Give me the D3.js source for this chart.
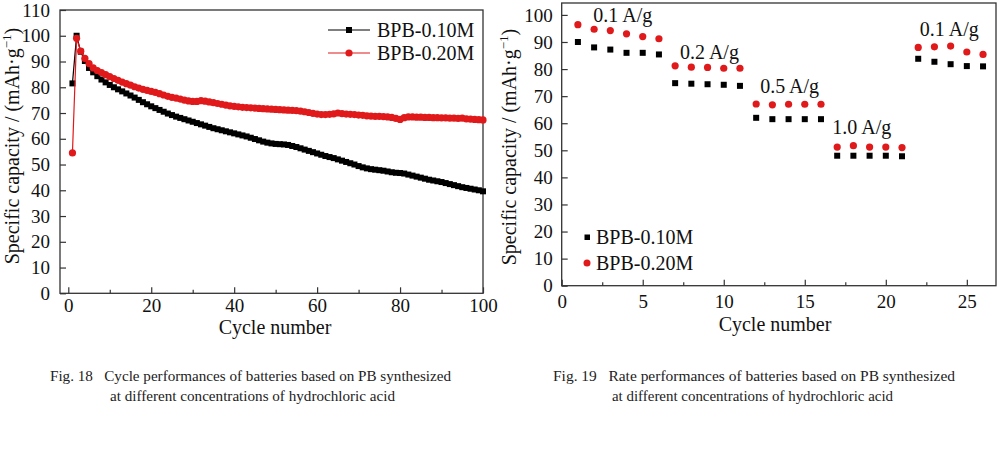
<!DOCTYPE html>
<html><head><meta charset="utf-8">
<script src="https://cdn.jsdelivr.net/npm/d3@7"></script>
<style>
body{margin:0;background:#fff}
svg{display:block;font-family:"Liberation Serif","Times New Roman",serif}
</style>
</head><body>
<svg id="c" width="1000" height="450"></svg>
<script>
// ---------- Data: Fig. 18 (cycle performance) ----------
const seriesNames = ["BPB-0.10M", "BPB-0.20M"];
const cycleB010 = [81.5,100,93.8,90.2,87.5,85.8,84.3,83.0,81.9,80.9,
  80.0,79.2,78.4,77.6,76.8,76.0,75.1,74.2,73.4,72.6,
  71.9,71.2,70.5,69.8,69.2,68.6,68.1,67.6,67.1,66.6,
  66.1,65.6,65.1,64.6,64.1,63.7,63.3,62.9,62.5,62.1,
  61.7,61.3,60.9,60.4,59.9,59.4,58.9,58.5,58.2,58.0,
  57.9,57.8,57.6,57.2,56.8,56.3,55.8,55.3,54.8,54.3,
  53.8,53.3,52.9,52.5,52.0,51.5,51.0,50.5,50.0,49.4,
  48.9,48.5,48.2,48.0,47.8,47.6,47.3,47.0,46.8,46.7,
  46.5,46.1,45.7,45.3,44.9,44.5,44.1,43.8,43.5,43.2,
  42.8,42.4,42.0,41.6,41.2,40.9,40.6,40.3,40.0,39.6];
const cycleB020 = [54.5,99.0,94.0,91.2,89.2,87.5,86.5,85.7,84.9,84.1,
  83.4,82.7,82.0,81.4,80.8,80.2,79.7,79.2,78.8,78.4,
  78.0,77.5,77.0,76.5,76.1,75.8,75.4,75.0,74.7,74.5,
  74.5,74.8,74.6,74.3,74.0,73.7,73.4,73.1,72.8,72.6,
  72.4,72.2,72.1,72.0,71.9,71.8,71.7,71.6,71.5,71.4,
  71.3,71.2,71.1,71.0,70.9,70.7,70.5,70.2,69.9,69.6,
  69.4,69.4,69.5,69.7,70.0,69.8,69.6,69.5,69.4,69.2,
  69.1,68.9,68.8,68.7,68.7,68.6,68.5,68.3,67.9,67.5,
  68.2,68.5,68.5,68.4,68.4,68.3,68.3,68.2,68.2,68.1,
  68.1,68.0,68.0,67.9,68.0,67.7,67.6,67.5,67.4,67.3];
const cycleXTicks = [0,20,40,60,80,100];
const cycleXMinor = [10,30,50,70,90];
const cycleYTicks = [0,10,20,30,40,50,60,70,80,90,100,110];

// ---------- Data: Fig. 19 (rate performance) ----------
const rateCycles = [1,2,3,4,5,6,7,8,9,10,11,12,13,14,15,16,17,18,19,20,21,22,23,24,25,26];
const rateB010 = [90.0,88.0,87.2,86.0,86.0,85.4, 74.8,74.6,74.4,74.2,73.8, 62.0,61.5,61.5,61.5,61.5,
  48.0,48.0,48.0,48.0,47.8, 83.8,82.7,81.8,81.1,81.0];
const rateB020 = [96.4,94.7,94.2,93.0,92.0,91.2, 81.2,80.7,80.6,80.3,80.3, 67.1,66.8,67.0,67.0,67.0,
  51.2,51.7,51.2,51.2,51.0, 88.0,88.2,88.5,86.3,85.4];
const rateLabels = ["0.1 A/g","0.2 A/g","0.5 A/g","1.0 A/g","0.1 A/g"];
const rateLabelAnchor = [[1.95,97.4],[7.3,83.7],[12.25,71.2],[16.7,56.0],[22.1,92.2]];
const rateXTicks = [0,5,10,15,20,25];
const rateXMinor = [2.5,7.5,12.5,17.5,22.5];
const rateYTicks = [0,10,20,30,40,50,60,70,80,90,100];

const captions = [
  ["Fig. 18   Cycle performances of batteries based on PB synthesized", "at different concentrations of hydrochloric acid"],
  ["Fig. 19   Rate performances of batteries based on PB synthesized", "at different concentrations of hydrochloric acid"]
];

const BLACK = "#000", RED = "#e0191b", AXIS = "#333";
const svg = d3.select("#c");

function frame(g, x, y, xt, xm, yt, xPad, yPad) {
  const [x0, x1] = x.range(), [y0, y1] = y.range();
  g.append("rect").attr("x", x0).attr("y", y1).attr("width", x1 - x0).attr("height", y0 - y1)
    .attr("fill", "none").attr("stroke", AXIS).attr("stroke-width", 1.3);
  g.append("g").attr("transform", `translate(0,${y0})`)
    .call(d3.axisBottom(x).tickValues(xt).tickSize(-6).tickPadding(xPad).tickFormat(d3.format("d")));
  g.append("g").attr("transform", `translate(0,${y0})`)
    .call(d3.axisBottom(x).tickValues(xm).tickSize(-3.5).tickFormat(""));
  g.append("g").attr("transform", `translate(${x0},0)`)
    .call(d3.axisLeft(y).tickValues(yt).tickSize(-6).tickPadding(yPad).tickFormat(d3.format("d")));
  g.selectAll(".domain").remove();
  g.selectAll(".tick line").attr("stroke", AXIS).attr("stroke-width", 1.2);
  g.selectAll(".tick text").attr("font-family", "Liberation Serif, Times New Roman, serif")
    .attr("font-size", 19).attr("fill", "#111");
}

function yTitle(g, cx, cy) {
  const t = g.append("text").attr("transform", `translate(${cx},${cy}) rotate(-90)`)
    .attr("text-anchor", "middle").attr("font-size", 20).attr("fill", "#111");
  t.append("tspan").text("Specific capacity / (mAh·g");
  t.append("tspan").attr("font-size", 13).attr("dy", -8).text("−1");
  t.append("tspan").attr("dy", 8).text(")");
}

// ---------- Left chart ----------
{
  const g = svg.append("g");
  const x = d3.scaleLinear().domain([-2, 100]).range([60, 483]);
  const y = d3.scaleLinear().domain([0, 110]).range([293.3, 10]);
  frame(g, x, y, cycleXTicks, cycleXMinor, cycleYTicks, 5, 10);
  const series = [[cycleB010, BLACK, "sq"], [cycleB020, RED, "ci"]];
  series.forEach(([vals, col, shape]) => {
    const data = vals.map((v, i) => [i + 1, v]);
    g.append("path").datum(data).attr("fill", "none").attr("stroke", col).attr("stroke-width", 1.2)
      .attr("d", d3.line().x(d => x(d[0])).y(d => y(d[1])));
    if (shape === "sq") {
      g.selectAll(null).data(data).enter().append("rect")
        .attr("x", d => x(d[0]) - 3).attr("y", d => y(d[1]) - 3).attr("width", 6).attr("height", 6).attr("fill", col);
    } else {
      g.selectAll(null).data(data).enter().append("circle")
        .attr("cx", d => x(d[0])).attr("cy", d => y(d[1])).attr("r", 3.6).attr("fill", col);
    }
  });
  // legend
  const lg = g.append("g");
  [[BLACK, "sq", 30], [RED, "ci", 53]].forEach(([col, shape, ly], i) => {
    lg.append("line").attr("x1", 328).attr("x2", 370).attr("y1", ly).attr("y2", ly).attr("stroke", col).attr("stroke-width", 1.2);
    if (shape === "sq") lg.append("rect").attr("x", 346).attr("y", ly - 3).attr("width", 6).attr("height", 6).attr("fill", col);
    else lg.append("circle").attr("cx", 349).attr("cy", ly).attr("r", 3.6).attr("fill", col);
    lg.append("text").attr("x", 377).attr("y", ly + 7).attr("font-size", 20).attr("fill", "#111").text(seriesNames[i]);
  });
  g.append("text").attr("x", 275).attr("y", 334).attr("text-anchor", "middle").attr("font-size", 20).attr("fill", "#111").text("Cycle number");
  yTitle(g, 19, 146);
}

// ---------- Right chart ----------
{
  const g = svg.append("g");
  const x = d3.scaleLinear().domain([0, 26.8]).range([561.7, 996]);
  const y = d3.scaleLinear().domain([0, 104.4]).range([285.7, 3]);
  frame(g, x, y, rateXTicks, rateXMinor, rateYTicks, 9, 9);
  g.selectAll(null).data(rateCycles).enter().append("rect")
    .attr("x", d => x(d) - 3).attr("y", (d, i) => y(rateB010[i]) - 3).attr("width", 6).attr("height", 6).attr("fill", BLACK);
  g.selectAll(null).data(rateCycles).enter().append("circle")
    .attr("cx", d => x(d)).attr("cy", (d, i) => y(rateB020[i])).attr("r", 3.6).attr("fill", RED);
  rateLabels.forEach((t, i) => {
    g.append("text").attr("x", x(rateLabelAnchor[i][0])).attr("y", y(rateLabelAnchor[i][1]))
      .attr("font-size", 20).attr("fill", "#111").text(t);
  });
  // legend
  g.append("rect").attr("x", 584.5).attr("y", 234.5).attr("width", 5.5).attr("height", 5.5).attr("fill", BLACK);
  g.append("circle").attr("cx", 587).attr("cy", 263).attr("r", 3.5).attr("fill", RED);
  g.append("text").attr("x", 596).attr("y", 244).attr("font-size", 20).attr("fill", "#111").text(seriesNames[0]);
  g.append("text").attr("x", 596).attr("y", 270).attr("font-size", 20).attr("fill", "#111").text(seriesNames[1]);
  g.append("text").attr("x", 775).attr("y", 331).attr("text-anchor", "middle").attr("font-size", 20).attr("fill", "#111").text("Cycle number");
  yTitle(g, 516, 147);
}

// ---------- Captions ----------
const capPos = [[[50, 381, 401], [110, 401, 285]], [[553, 381, 402], [612, 401, 281]]];
captions.forEach((lines, k) => {
  lines.forEach((t, j) => {
    const [cx, cy, len] = capPos[k][j];
    svg.append("text").attr("x", cx).attr("y", cy).attr("font-size", 14).attr("fill", "#222")
      .style("white-space", "pre")
      .attr("textLength", len).attr("lengthAdjust", "spacingAndGlyphs").text(t);
  });
});
</script>
</body></html>
